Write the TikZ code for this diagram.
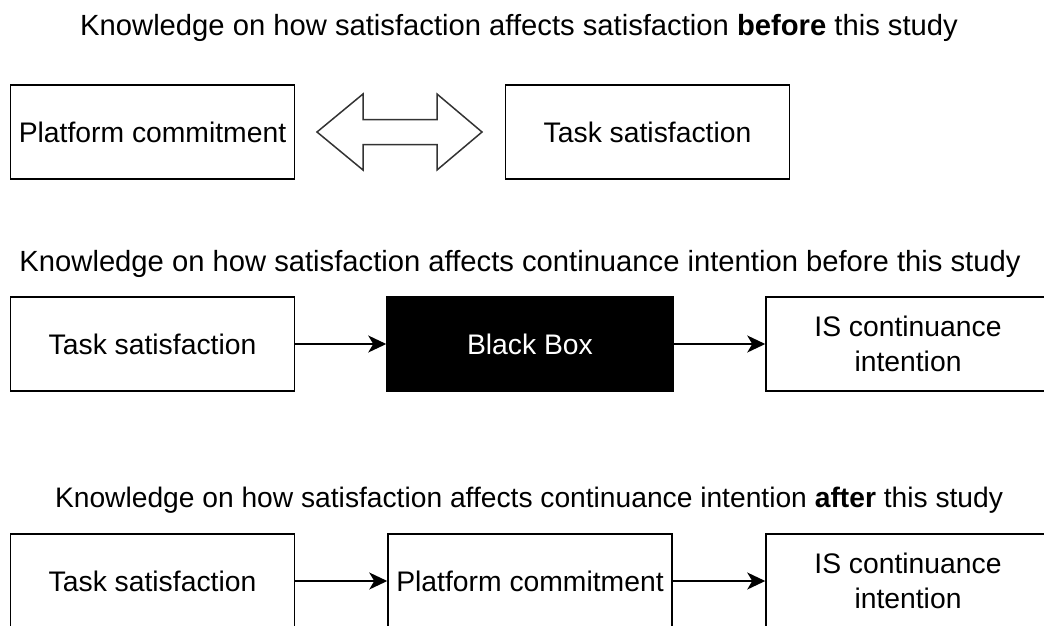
\documentclass[tikz,border=0pt]{standalone}
\usepackage{fontspec}
\setmainfont{Liberation Sans}
\usetikzlibrary{arrows.meta}
\begin{document}
\begin{tikzpicture}[x=1pt,y=-1pt,
  box/.style={draw=black, line width=1.5pt, minimum width=284pt, minimum height=94pt,
    inner sep=0pt, align=center, font=\fontsize{28.3}{35}\selectfont},
  blackbox/.style={box, fill=black, text=white},
  title/.style={inner sep=0pt, font=\fontsize{29.2}{34}\selectfont},
  link/.style={line width=1.5pt, -{Stealth[length=18pt, width=17pt, inset=5pt]}}]
\useasboundingbox (0,0) rectangle (1044,625);
\clip (0,0) rectangle (1044,625);

% titles of the three panels
\node[title] (t1) at (519,28) {Knowledge on how satisfaction affects satisfaction \textbf{before} this study};
\node[title] (t2) at (520,264) {Knowledge on how satisfaction affects continuance intention before this study};
\node[title, font=\fontsize{28.2}{34}\selectfont] (t3) at (529,500) {Knowledge on how satisfaction affects continuance intention \textbf{after} this study};

% panel 1: reciprocal relation
\node[box] (pc1) at (152.5,132) {Platform commitment};
\node[box] (ts1) at (647.5,132) {Task satisfaction};
\draw[line width=1.5pt, draw=black!80, fill=white, line join=miter]
  (317,132) -- (363,94) -- (363,119.5) -- (437,119.5) -- (437,94) -- (482,132)
  -- (437,170) -- (437,144.5) -- (363,144.5) -- (363,170) -- cycle;

% panel 2: unknown mechanism
\node[box] (ts2) at (152.5,344) {Task satisfaction};
\node[blackbox, minimum width=286pt] (bb) at (530,344) {Black Box};
\node[box] (ci2) at (908,344) {IS continuance\\intention};
\draw[link] (ts2) -- (bb);
\draw[link] (bb) -- (ci2);

% panel 3: mediation through platform commitment
\node[box] (ts3) at (152.5,581) {Task satisfaction};
\node[box] (pc3) at (530,581) {Platform commitment};
\node[box] (ci3) at (908,581) {IS continuance\\intention};
\draw[link] (ts3) -- (pc3);
\draw[link] (pc3) -- (ci3);
\end{tikzpicture}
\end{document}
